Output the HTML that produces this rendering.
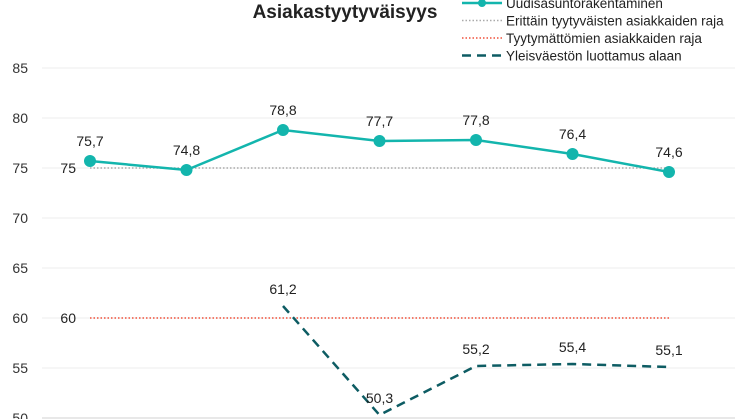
<!DOCTYPE html>
<html><head><meta charset="utf-8"><style>
body{margin:0;background:#fff;}
svg{display:block;font-family:"Liberation Sans",sans-serif;}
</style></head><body>
<svg width="746" height="419" viewBox="0 0 746 419" id="c"></svg>
<script>
const categories=["1","2","3","4","5","6","7"];
const mainSeries=[75.7,74.8,78.8,77.7,77.8,76.4,74.6];
const trustSeries=[null,null,61.2,50.3,55.2,55.4,55.1];
const highLimit=75;
const lowLimit=60;
const yTicks=[50,55,60,65,70,75,80,85];
const svg=document.getElementById('c');
const NS='http://www.w3.org/2000/svg';
function y(v){return 418-(v-50)*10;}
function x(i){return 90+i*96.5;}
function add(tag,attrs,name,text){const e=document.createElementNS(NS,tag);for(const k in attrs)e.setAttribute(k,attrs[k]);


if(text!==undefined)e.textContent=text;svg.appendChild(e);return e;}
yTicks.forEach(t=>{
add('line',{x1:42,x2:735,y1:y(t),y2:y(t),stroke:t===50?'#d0d0d0':'#ececec','stroke-width':1},'gridline');
add('text',{x:28,y:y(t)+5,'font-size':14,'text-anchor':'end',fill:'#333'},'y-tick-label',String(t));
});
add('line',{x1:x(0),x2:x(6),y1:y(highLimit),y2:y(highLimit),stroke:'#aaa','stroke-width':1.5,'stroke-dasharray':'1.5 2'},'high-satisfaction-limit');
add('text',{x:x(0)-14,y:y(highLimit)+5,'font-size':14,'text-anchor':'end',fill:'#222'},'high-limit-label',String(highLimit));
add('line',{x1:x(0),x2:x(6),y1:y(lowLimit),y2:y(lowLimit),stroke:'#f0503a','stroke-width':1.5,'stroke-dasharray':'1.5 2'},'low-satisfaction-limit');
add('text',{x:x(0)-14,y:y(lowLimit)+5,'font-size':14,'text-anchor':'end',fill:'#222'},'low-limit-label',String(lowLimit));
let pts=[];trustSeries.forEach((v,i)=>{if(v!==null)pts.push(x(i)+','+y(v));});
add('polyline',{points:pts.join(' '),fill:'none',stroke:'#0d5c63','stroke-width':2.5,'stroke-dasharray':'9 6'},'trust-line');
trustSeries.forEach((v,i)=>{if(v!==null)add('text',{x:x(i),y:y(v)-12,'font-size':14,'text-anchor':'middle',fill:'#222'},'trust-value-label',String(v).replace('.',','));});
add('polyline',{points:mainSeries.map((v,i)=>x(i)+','+y(v)).join(' '),fill:'none',stroke:'#13b5ad','stroke-width':2.5},'main-line');
mainSeries.forEach((v,i)=>{add('circle',{cx:x(i),cy:y(v),r:6,fill:'#13b5ad'},'main-point');
add('text',{x:x(i),y:y(v)-15,'font-size':14,'text-anchor':'middle',fill:'#222'},'main-value-label',String(v).replace('.',','));});
add('text',{x:345,y:18,'font-size':19,'font-weight':'bold','text-anchor':'middle',fill:'#222'},'chart-title','Asiakastyytyväisyys');
const lg=[['Uudisasuntorakentaminen','#13b5ad','',2.5],['Erittäin tyytyväisten asiakkaiden raja','#aaa','1.5 2',1.5],['Tyytymättömien asiakkaiden raja','#f0503a','1.5 2',1.5],['Yleisväestön luottamus alaan','#0d5c63','9 6',2.5]];
lg.forEach((l,i)=>{const yy=3+i*17.5;
add('line',{x1:462,x2:502,y1:yy,y2:yy,stroke:l[1],'stroke-width':l[3],'stroke-dasharray':l[2]},'legend-swatch');
if(i===0)add('circle',{cx:482,cy:yy,r:4,fill:l[1]},'legend-marker');
add('text',{x:506,y:yy+5,'font-size':13.5,fill:'#222'},'legend-entry',l[0]);});
</script>
</body></html>
